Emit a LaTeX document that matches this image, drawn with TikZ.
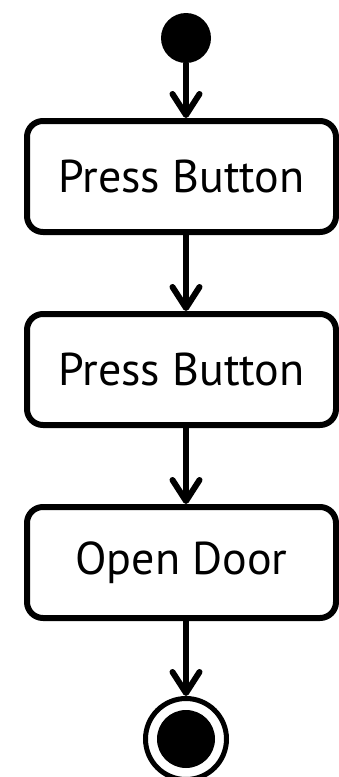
\documentclass[tikz,border=0pt]{standalone}
\usepackage{fontspec}
\setmainfont{PT Sans}
\usetikzlibrary{positioning, arrows.meta}
\tikzset{
  action/.style={
    draw,
    rectangle,
    rounded corners=16pt,
    line width=6pt,
    minimum width=309pt,
    minimum height=111pt,
    align=center,
    font=\fontsize{46}{52}\selectfont
  },
  startdot/.style={
    circle,
    fill,
    inner sep=0pt,
    minimum size=50pt
  },
  enddot/.style={
    circle,
    draw,
    fill=white,
    line width=5pt,
    inner sep=0pt,
    minimum size=81pt,
    path picture={\fill[black] (path picture bounding box.center) circle (29pt);}
  },
  flow/.style={
    line width=6pt,
    -{Straight Barb[length=21pt,width=27pt,line cap=round,line join=round]}
  }
}
\begin{document}
\begin{tikzpicture}[x=1pt, y=1pt]
    \useasboundingbox (0,0) rectangle (339,-777);
    \node[startdot] (start) at (186,-38) {};
    \node[action] (press1) at (181.5,-176.5) {Press Button};
    \node[action, below=76pt of press1] (press2) {Press Button};
    \node[action, below=76pt of press2] (door) {Open Door};
    \node[enddot, below=75pt of door, xshift=4.5pt] (stop) {};

    \draw[flow] (start) -- (start |- press1.north);
    \draw[flow] (press1.south -| start) -- (press2.north -| start);
    \draw[flow] (press2.south -| start) -- (door.north -| start);
    \draw[flow] (door.south -| start) -- (stop);
\end{tikzpicture}
\end{document}
